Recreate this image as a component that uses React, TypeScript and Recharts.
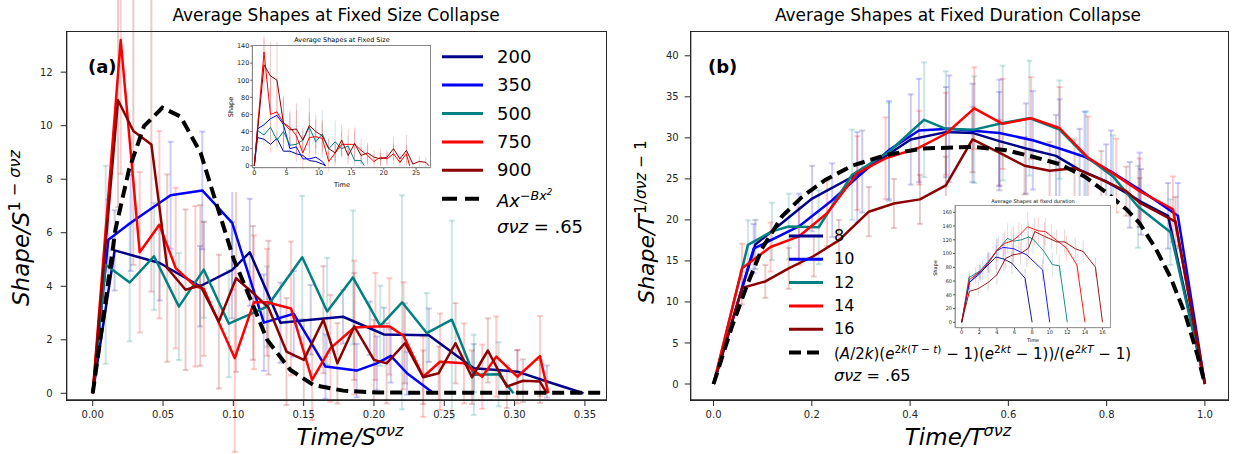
import React from "react";
import { LineChart, Line, XAxis, YAxis, ErrorBar } from "recharts";

const FONT = '"DejaVu Sans", Verdana, sans-serif';
const INK = "#262626";

const SIZE_LABELS = ["200", "350", "500", "750", "900"];
const DURATION_LABELS = ["8", "10", "12", "14", "16"];
const SERIES_COLORS = ["#00008b", "#0000ff", "#008080", "#ff0000", "#8b0000"];

// ---- panel (a): fixed size collapse ----
const A_XTICKS = [0, 0.05, 0.1, 0.15, 0.2, 0.25, 0.3, 0.35];
const A_YTICKS = [0, 2, 4, 6, 8, 10, 12];

const A200_X = [0, 0.0156, 0.0476, 0.0763, 0.099, 0.1117, 0.1335, 0.155, 0.178, 0.197, 0.207, 0.239, 0.271, 0.302, 0.323, 0.349];
const A200_Y = [0, 5.34, 4.87, 4.0, 4.6, 5.27, 2.64, 2.75, 2.86, 2.43, 2.2, 2.17, 0.94, 0.81, 0.44, 0];
const A200_E = [0, 1.5, 1.4, 1.5, 1.8, 2.0, 1.5, 1.3, 1.0, 1.0, 1.0, 1.0, 0.9, 0.8, 0.6, 0];

const A350_X = [0, 0.0111, 0.027, 0.0554, 0.0779, 0.0992, 0.1217, 0.143, 0.1655, 0.1877, 0.202, 0.212, 0.2235, 0.2424];
const A350_Y = [0, 5.74, 6.37, 7.4, 7.58, 6.37, 2.64, 2.97, 1.0, 0.85, 1.12, 1.4, 0.75, 0];
const A350_E = [0, 1.5, 1.8, 2.0, 2.2, 2.5, 1.8, 1.6, 1.2, 1.0, 1.0, 1.0, 0.8, 0];

const A500_X = [0, 0.0092, 0.0263, 0.0436, 0.0613, 0.079, 0.0968, 0.124, 0.149, 0.1667, 0.185, 0.2045, 0.22, 0.2375, 0.2554, 0.271, 0.2886, 0.2992];
const A500_Y = [0, 4.8, 4.14, 5.12, 3.24, 4.62, 2.6, 3.24, 5.08, 3.06, 4.33, 2.52, 3.4, 2.25, 2.75, 0.69, 0.71, 0];
const A500_E = [0, 3.7, 2.2, 2.0, 2.0, 1.8, 2.0, 1.5, 2.3, 2.0, 2.5, 1.5, 4.0, 1.5, 3.7, 1.5, 1.2, 0];

const A750_X = [0, 0.0199, 0.0334, 0.0474, 0.059, 0.073, 0.079, 0.101, 0.1146, 0.124, 0.141, 0.156, 0.169, 0.186, 0.201, 0.211, 0.221, 0.235, 0.247, 0.264, 0.277, 0.287, 0.302, 0.318, 0.324];
const A750_Y = [0, 13.2, 5.27, 6.3, 4.68, 4.0, 3.9, 1.31, 3.4, 3.4, 3.17, 0.5, 1.68, 2.46, 2.5, 2.5, 2.15, 0.62, 1.18, 1.12, 0.62, 1.37, 0.62, 1.39, 0];
const A750_E = [0, 5.0, 3.0, 3.5, 3.0, 3.0, 2.5, 3.5, 2.5, 2.0, 2.5, 1.5, 2.0, 2.5, 2.0, 1.8, 2.0, 1.5, 1.8, 1.5, 1.2, 1.5, 1.0, 1.5, 0];

const A900_X = [0, 0.018, 0.0289, 0.0417, 0.053, 0.066, 0.0765, 0.0897, 0.102, 0.114, 0.125, 0.1378, 0.1501, 0.164, 0.174, 0.186, 0.2, 0.209, 0.222, 0.235, 0.246, 0.258, 0.2697, 0.281, 0.2945, 0.306, 0.318, 0.323];
const A900_Y = [0, 10.95, 9.8, 9.3, 4.68, 3.87, 4.03, 2.68, 4.3, 3.75, 3.2, 1.56, 1.25, 2.75, 1.12, 2.5, 1.25, 1.12, 1.87, 0.6, 0.75, 1.87, 0.6, 1.6, 0.25, 0.47, 0.44, 0];
const A900_E = [0, 4.0, 5.0, 5.5, 3.5, 3.0, 3.0, 2.5, 3.5, 2.5, 2.5, 2.0, 1.5, 2.0, 1.5, 2.0, 1.5, 1.5, 1.5, 1.0, 1.0, 1.5, 1.0, 1.2, 0.8, 0.8, 0.8, 0];

const A_FIT_X = [0, 0.008, 0.0161, 0.0258, 0.0365, 0.0495, 0.0625, 0.0767, 0.0885, 0.1004, 0.1134, 0.124, 0.1406, 0.157, 0.178, 0.2022, 0.25, 0.3, 0.37];
const A_FIT_Y = [0, 3.0, 6.1, 8.36, 9.98, 10.67, 10.34, 8.99, 6.99, 4.99, 3.37, 2.0, 0.87, 0.31, 0.1, 0.03, 0.02, 0.02, 0.02];

// ---- inset of (a): raw shapes at fixed size ----
const IA_XTICKS = [0, 5, 10, 15, 20, 25];
const IA_YTICKS = [0, 20, 40, 60, 80, 100, 120, 140];

const IA200_T = [0, 0.5, 1.5, 2.5, 3.5, 4.5, 5.5, 6.5, 7.5, 8.5, 9.5, 10.5, 11];
const IA200_S = [0, 33, 31, 25, 32, 17, 17, 14, 12, 6, 5, 2, 0];
const IA350_T = [0, 0.5, 1.5, 2.5, 3.5, 4.5, 5.5, 6.5, 7.5, 8.5, 9.5, 10.5, 11];
const IA350_S = [0, 43, 48, 55, 59, 48, 20, 22, 8, 8, 10, 5, 0];
const IA500_T = [0, 0.5, 1.5, 2.5, 3.5, 4.5, 5.5, 6.5, 7.5, 8.5, 9.5, 10.5, 11.5, 12.5, 13.5, 14.5, 15.5, 16.5, 17];
const IA500_S = [0, 41, 36, 45, 30, 40, 24, 25, 30, 45, 28, 37, 20, 28, 20, 23, 6, 6, 0];
const IA500_E = [0, 15, 12, 14, 10, 12, 10, 10, 12, 18, 15, 28, 12, 25, 10, 12, 6, 5, 0];
const IA750_T = [0, 1.5, 2.5, 3.5, 4.5, 5.5, 6.5, 7.5, 8.5, 9.5, 10.5, 11.5, 12.5, 13.5, 14.5, 15.5, 16.5, 17.5, 18.5, 19.5, 20.5, 21.5, 22.5, 23.5, 24];
const IA750_S = [0, 133, 60, 63, 50, 45, 35, 15, 33, 34, 32, 5, 15, 25, 25, 25, 18, 12, 5, 10, 8, 14, 4, 14, 0];
const IA750_E = [0, 35, 45, 40, 32, 20, 30, 20, 25, 20, 18, 12, 15, 15, 18, 20, 14, 12, 8, 10, 8, 12, 6, 10, 0];
const IA900_T = [0, 1.5, 2.5, 3.5, 4.5, 5.5, 6.5, 7.5, 8.5, 9.5, 10.5, 11.5, 12.5, 13.5, 14.5, 15.5, 16.5, 17.5, 18.5, 19.5, 20.5, 21.5, 22.5, 23.5, 24.5, 25.5, 26.5, 27];
const IA900_S = [0, 118, 105, 100, 50, 42, 43, 30, 47, 40, 35, 20, 15, 30, 12, 26, 12, 15, 10, 8, 10, 20, 8, 18, 2, 5, 4, 0];
const IA900_E = [0, 30, 40, 45, 30, 20, 30, 15, 32, 20, 18, 12, 10, 18, 10, 15, 10, 12, 8, 8, 8, 14, 6, 18, 4, 6, 6, 0];

// ---- panel (b): fixed duration collapse ----
const B_XTICKS = [0, 0.2, 0.4, 0.6, 0.8, 1.0];
const B_YTICKS = [0, 5, 10, 15, 20, 25, 30, 35, 40];

const B8_X = [0, 0.085, 0.2007, 0.3027, 0.4014, 0.473, 0.527, 0.5816, 0.636, 0.697, 0.745, 0.799, 0.847, 0.87, 0.925, 1.0];
const B8_Y = [0, 17.0, 22.6, 25.9, 29.8, 30.7, 30.6, 29.6, 28.7, 27.8, 26.1, 24.7, 23.05, 22.2, 20.5, 0];
const B8_E = [0, 3, 4, 5, 5.5, 5.5, 6, 6, 5.5, 5, 5, 4.5, 4, 4, 4, 0];

const B10_X = [0, 0.0816, 0.1735, 0.2415, 0.2925, 0.357, 0.418, 0.4796, 0.5816, 0.6497, 0.7041, 0.755, 0.809, 0.867, 0.945, 1.0];
const B10_Y = [0, 16.5, 19.2, 22.4, 25.2, 28.5, 30.9, 31.1, 30.6, 29.7, 28.7, 27.7, 25.9, 23.7, 20.5, 0];
const B10_E = [0, 3, 4, 4.5, 5.5, 6, 6.3, 6.5, 6.5, 6, 6, 5.5, 5, 4.5, 4, 0];

const B12_X = [0, 0.07, 0.119, 0.153, 0.214, 0.282, 0.357, 0.4286, 0.4728, 0.5306, 0.5884, 0.6429, 0.7041, 0.7585, 0.8129, 0.864, 0.93, 1.0];
const B12_Y = [0, 16.95, 18.6, 19.2, 19.1, 25.5, 28.3, 32.2, 31.1, 31.0, 31.8, 32.4, 31.0, 27.7, 25.3, 21.6, 18.5, 0];
const B12_E = [0, 3, 3.5, 4, 4.5, 5.5, 6, 7, 7, 6.5, 7, 7, 6, 5.5, 5, 5, 4, 0];

const B14_X = [0, 0.058, 0.116, 0.174, 0.231, 0.2925, 0.35, 0.4184, 0.4728, 0.5306, 0.5884, 0.6463, 0.7041, 0.762, 0.8197, 0.867, 0.935, 1.0];
const B14_Y = [0, 14.1, 16.7, 18.0, 20.8, 25.7, 27.5, 28.8, 30.5, 33.6, 31.7, 32.4, 31.2, 27.6, 25.4, 23.5, 21.3, 0];
const B14_E = [0, 3, 3, 3.5, 4, 4.5, 5, 4.5, 5, 5, 5.5, 5, 5, 5, 4.5, 4, 4, 0];

const B16_X = [0, 0.0578, 0.1054, 0.153, 0.204, 0.255, 0.316, 0.367, 0.42, 0.4728, 0.527, 0.5816, 0.633, 0.684, 0.7347, 0.7891, 0.84, 0.867, 0.94, 1.0];
const B16_Y = [0, 11.7, 12.5, 14.1, 15.6, 17.5, 21.0, 22.0, 22.5, 24.2, 29.8, 28.2, 26.6, 26.0, 26.3, 24.9, 23.5, 22.1, 19.8, 0];
const B16_E = [0, 2, 2, 2.5, 2.5, 2.5, 3, 3, 3, 3.5, 4, 4, 3.5, 3.5, 3.5, 3.5, 3, 3, 3, 0];

const B_FIT_X = [0, 0.0374, 0.068, 0.0986, 0.139, 0.18, 0.228, 0.2823, 0.35, 0.4252, 0.527, 0.5952, 0.6497, 0.7041, 0.755, 0.8, 0.8401, 0.867, 0.9, 0.93, 0.96, 0.985, 1.0];
const B_FIT_Y = [0, 7.0, 12.0, 16.5, 20.4, 22.8, 24.9, 26.6, 27.9, 28.7, 28.9, 28.5, 27.7, 26.8, 25.3, 23.3, 21.3, 19.6, 16.5, 13.0, 8.5, 3.5, 0];

// ---- inset of (b): raw shapes at fixed duration ----
const IB_XTICKS = [0, 2, 4, 6, 8, 10, 12, 14, 16];
const IB_YTICKS = [0, 20, 40, 60, 80, 100, 120, 140, 160];

const IB8_T = [0, 0.83, 1.6, 2.4, 3.2, 3.9, 4.8, 5.7, 7.2, 8];
const IB8_S = [0, 57, 68, 76, 86, 95, 92, 86, 64, 0];
const IB8_E = [0, 10, 12, 14, 16, 18, 18, 16, 14, 0];
const IB10_T = [0, 0.87, 2.1, 3, 4, 4.7, 5.9, 7.4, 9.2, 10];
const IB10_S = [0, 58, 71, 86, 104, 109, 107, 98, 76, 0];
const IB10_E = [0, 10, 12, 15, 18, 20, 20, 18, 16, 0];
const IB12_T = [0, 0.83, 2.1, 3, 4.2, 5.2, 5.9, 6.8, 7.6, 8.1, 9.3, 10.3, 11.1, 12];
const IB12_S = [0, 65, 75, 88, 107, 122, 118, 120, 124, 121, 104, 84, 82, 0];
const IB12_E = [0, 10, 12, 15, 18, 22, 22, 22, 22, 22, 20, 18, 16, 0];
const IB14_T = [0, 0.87, 2, 3, 4, 4.9, 5.7, 6.5, 7.5, 8.7, 9.5, 10.2, 11.9, 13.1, 14];
const IB14_S = [0, 62, 73, 86, 105, 115, 118, 126, 139, 133, 132, 125, 108, 83, 0];
const IB14_E = [0, 10, 12, 14, 16, 18, 20, 20, 22, 20, 20, 18, 18, 16, 0];
const IB16_T = [0, 0.87, 1.9, 3, 4, 5, 5.8, 6.7, 7.6, 8.3, 9.4, 10.8, 11.7, 12.9, 13.8, 15.2, 16];
const IB16_S = [0, 45, 49, 58, 69, 93, 98, 100, 108, 132, 125, 117, 117, 107, 103, 80, 0];
const IB16_E = [0, 8, 10, 12, 14, 16, 16, 16, 18, 20, 20, 18, 18, 16, 16, 14, 0];

type Pt = { x: number; y: number; e: number };
type Series = { name: string; color: string; data: Pt[] };

const pts = (xs: number[], ys: number[], es?: number[]): Pt[] =>
  xs.map((x, i) => ({ x, y: ys[i], e: es ? es[i] : 0 }));

const A_SERIES: Series[] = [
  { name: SIZE_LABELS[0], color: SERIES_COLORS[0], data: pts(A200_X, A200_Y, A200_E) },
  { name: SIZE_LABELS[1], color: SERIES_COLORS[1], data: pts(A350_X, A350_Y, A350_E) },
  { name: SIZE_LABELS[2], color: SERIES_COLORS[2], data: pts(A500_X, A500_Y, A500_E) },
  { name: SIZE_LABELS[3], color: SERIES_COLORS[3], data: pts(A750_X, A750_Y, A750_E) },
  { name: SIZE_LABELS[4], color: SERIES_COLORS[4], data: pts(A900_X, A900_Y, A900_E) },
];
const IA_SERIES: Series[] = [
  { name: SIZE_LABELS[0], color: SERIES_COLORS[0], data: pts(IA200_T, IA200_S) },
  { name: SIZE_LABELS[1], color: SERIES_COLORS[1], data: pts(IA350_T, IA350_S) },
  { name: SIZE_LABELS[2], color: SERIES_COLORS[2], data: pts(IA500_T, IA500_S, IA500_E) },
  { name: SIZE_LABELS[3], color: SERIES_COLORS[3], data: pts(IA750_T, IA750_S, IA750_E) },
  { name: SIZE_LABELS[4], color: SERIES_COLORS[4], data: pts(IA900_T, IA900_S, IA900_E) },
];
const B_SERIES: Series[] = [
  { name: DURATION_LABELS[0], color: SERIES_COLORS[0], data: pts(B8_X, B8_Y, B8_E) },
  { name: DURATION_LABELS[1], color: SERIES_COLORS[1], data: pts(B10_X, B10_Y, B10_E) },
  { name: DURATION_LABELS[2], color: SERIES_COLORS[2], data: pts(B12_X, B12_Y, B12_E) },
  { name: DURATION_LABELS[3], color: SERIES_COLORS[3], data: pts(B14_X, B14_Y, B14_E) },
  { name: DURATION_LABELS[4], color: SERIES_COLORS[4], data: pts(B16_X, B16_Y, B16_E) },
];
const IB_SERIES: Series[] = [
  { name: DURATION_LABELS[0], color: SERIES_COLORS[0], data: pts(IB8_T, IB8_S, IB8_E) },
  { name: DURATION_LABELS[1], color: SERIES_COLORS[1], data: pts(IB10_T, IB10_S, IB10_E) },
  { name: DURATION_LABELS[2], color: SERIES_COLORS[2], data: pts(IB12_T, IB12_S, IB12_E) },
  { name: DURATION_LABELS[3], color: SERIES_COLORS[3], data: pts(IB14_T, IB14_S, IB14_E) },
  { name: DURATION_LABELS[4], color: SERIES_COLORS[4], data: pts(IB16_T, IB16_S, IB16_E) },
];
const A_FIT = pts(A_FIT_X, A_FIT_Y);
const B_FIT = pts(B_FIT_X, B_FIT_Y);

function errorLayer(series: Series[], cap: number, sw: number, op: number) {
  return series.map((s) => (
    <Line key={"err-" + s.name} data={s.data} dataKey="y" stroke="none" dot={false} activeDot={false} isAnimationActive={false}>
      <ErrorBar dataKey="e" width={cap} stroke={s.color} strokeOpacity={op} strokeWidth={sw} />
    </Line>
  ));
}

function lineLayer(series: Series[], sw: number) {
  return series.map((s) => (
    <Line key={"line-" + s.name} data={s.data} dataKey="y" stroke={s.color} strokeWidth={sw} strokeLinejoin="round" dot={false} activeDot={false} isAnimationActive={false} />
  ));
}

const tickFont = (size: number) => ({ fontSize: size, fill: INK, fontFamily: FONT });

const Sup = ({ children }: { children: React.ReactNode }) => (
  <span style={{ fontSize: "0.7em", position: "relative", top: "-0.55em" }}>{children}</span>
);

const abs = (left: number, top: number, extra: React.CSSProperties = {}): React.CSSProperties => ({
  position: "absolute",
  left,
  top,
  whiteSpace: "nowrap",
  fontFamily: FONT,
  color: "#000",
  lineHeight: 1,
  ...extra,
});

// plot-area outline (matplotlib draws all four spines)
const Box = ({ l, t, r, b, color, w }: { l: number; t: number; r: number; b: number; color: string; w: number }) => (
  <div style={{ position: "absolute", left: l - w / 2, top: t - w / 2, width: r - l + w, height: b - t + w, border: `${w}px solid ${color}`, boxSizing: "border-box", pointerEvents: "none" }} />
);

const A_XDOM = [-0.0185, 0.365];
const A_YDOM = [-0.25, 13.5];
const B_XDOM = [-0.0465, 1.047];
const B_YDOM = [-1.95, 42.9];
const IA_XDOM = [-0.31, 27.3];
const IA_YDOM = [-2.3, 141.2];
const IB_XDOM = [-0.76, 16.85];
const IB_YDOM = [-7.85, 170.6];

function PanelA() {
  return (
    <div style={{ position: "absolute", left: 0, top: 0 }}>
      <LineChart width={620} height={454} margin={{ top: 32, right: 14, bottom: 24, left: 0 }}>
        <XAxis type="number" dataKey="x" domain={A_XDOM} allowDataOverflow ticks={A_XTICKS} interval={0}
          tickFormatter={(v: number) => v.toFixed(2)} height={30} tickSize={6} tickMargin={5}
          tick={tickFont(10)} tickLine={{ stroke: INK }} axisLine={{ stroke: INK, strokeWidth: 1.3 }} />
        <YAxis type="number" domain={A_YDOM} allowDataOverflow ticks={A_YTICKS} interval={0} width={66.7}
          tickSize={6} tickMargin={8} tick={tickFont(10)} tickLine={{ stroke: INK }} axisLine={{ stroke: INK, strokeWidth: 1.3 }} />
        {errorLayer(A_SERIES, 3, 2, 0.2)}
        {lineLayer(A_SERIES, 2.5)}
        <Line data={A_FIT} dataKey="y" stroke="#000" strokeWidth={4} strokeDasharray="12 6" dot={false} activeDot={false} isAnimationActive={false} />
      </LineChart>
    </div>
  );
}

function PanelB() {
  return (
    <div style={{ position: "absolute", left: 630, top: 0 }}>
      <LineChart width={603} height={454} margin={{ top: 32, right: 5, bottom: 24, left: 0 }}>
        <XAxis type="number" dataKey="x" domain={B_XDOM} allowDataOverflow ticks={B_XTICKS} interval={0}
          tickFormatter={(v: number) => v.toFixed(1)} height={30} tickSize={6} tickMargin={5}
          tick={tickFont(10)} tickLine={{ stroke: INK }} axisLine={{ stroke: INK, strokeWidth: 1.3 }} />
        <YAxis type="number" domain={B_YDOM} allowDataOverflow ticks={B_YTICKS} interval={0} width={60.7}
          tickSize={6} tickMargin={6} tick={tickFont(10)} tickLine={{ stroke: INK }} axisLine={{ stroke: INK, strokeWidth: 1.3 }} />
        {errorLayer(B_SERIES, 3, 2, 0.2)}
        {lineLayer(B_SERIES, 2.5)}
        <Line data={B_FIT} dataKey="y" stroke="#000" strokeWidth={4} strokeDasharray="12 6" dot={false} activeDot={false} isAnimationActive={false} />
      </LineChart>
    </div>
  );
}

function InsetA() {
  return (
    <div style={{ position: "absolute", left: 215, top: 36, background: "#fff" }}>
      <LineChart width={220} height={156} margin={{ top: 9, right: 4, bottom: 10, left: 0 }}>
        <XAxis type="number" dataKey="x" domain={IA_XDOM} allowDataOverflow ticks={IA_XTICKS} interval={0}
          height={14.3} tickSize={2} tickMargin={1} tick={tickFont(6.5)} tickLine={{ stroke: "#555" }} axisLine={{ stroke: "#888" }} />
        <YAxis type="number" domain={IA_YDOM} allowDataOverflow ticks={IA_YTICKS} interval={0} width={37.3}
          tickSize={2} tickMargin={1} tick={tickFont(6.5)} tickLine={{ stroke: "#555" }} axisLine={{ stroke: "#888" }} />
        {errorLayer(IA_SERIES, 0, 1, 0.2)}
        {lineLayer(IA_SERIES, 1)}
      </LineChart>
    </div>
  );
}

function InsetB() {
  return (
    <div style={{ position: "absolute", left: 928, top: 196, background: "#fff" }}>
      <LineChart width={188} height={150} margin={{ top: 9, right: 6, bottom: 8.3, left: 0 }}>
        <XAxis type="number" dataKey="x" domain={IB_XDOM} allowDataOverflow ticks={IB_XTICKS} interval={0}
          height={10} tickSize={2} tickMargin={1} tick={tickFont(5)} tickLine={{ stroke: "#555" }} axisLine={{ stroke: "#999" }} />
        <YAxis type="number" domain={IB_YDOM} allowDataOverflow ticks={IB_YTICKS} interval={0} width={27}
          tickSize={2} tickMargin={1} tick={tickFont(5)} tickLine={{ stroke: "#555" }} axisLine={{ stroke: "#999" }} />
        {errorLayer(IB_SERIES, 0, 1, 0.18)}
        {lineLayer(IB_SERIES, 0.9)}
      </LineChart>
    </div>
  );
}

function Legends() {
  const aRow = (i: number) => 56.7 + i * 28.4;
  const bRow = (i: number) => 236 + i * 23.3;
  return (
    <>
      <svg width={1233} height={454} style={{ position: "absolute", left: 0, top: 0, pointerEvents: "none" }}>
        {SIZE_LABELS.map((s, i) => (
          <line key={"la" + s} x1={442} x2={483} y1={aRow(i)} y2={aRow(i)} stroke={SERIES_COLORS[i]} strokeWidth={3} />
        ))}
        <line x1={442} x2={479} y1={aRow(5)} y2={aRow(5)} stroke="#000" strokeWidth={4} strokeDasharray="15 8" />
        {DURATION_LABELS.map((s, i) => (
          <line key={"lb" + s} x1={789} x2={823} y1={bRow(i)} y2={bRow(i)} stroke={SERIES_COLORS[i]} strokeWidth={3} />
        ))}
        <line x1={789} x2={823} y1={bRow(5)} y2={bRow(5)} stroke="#000" strokeWidth={4} strokeDasharray="12 6" />
      </svg>
      {SIZE_LABELS.map((s, i) => (
        <div key={"ta" + s} style={abs(497, aRow(i), { fontSize: 18, transform: "translateY(-50%)" })}>{s}</div>
      ))}
      <div style={abs(497, aRow(5) + 2, { fontSize: 18, transform: "translateY(-50%)", fontStyle: "italic" })}>
        Ax<Sup>−Bx<Sup>2</Sup></Sup>
      </div>
      <div style={abs(497, aRow(6), { fontSize: 18, transform: "translateY(-50%)" })}>
        <i>σνz</i> = .65
      </div>
      {DURATION_LABELS.map((s, i) => (
        <div key={"tb" + s} style={abs(834, bRow(i), { fontSize: 16, transform: "translateY(-50%)" })}>{s}</div>
      ))}
      <div style={abs(834, bRow(5) + 1, { fontSize: 15, transform: "translateY(-50%)" })}>
        (<i>A</i>/2<i>k</i>)(<i>e</i><Sup>2<i>k</i>(<i>T</i> − <i>t</i>)</Sup> − 1)(<i>e</i><Sup>2<i>kt</i></Sup> − 1))/(<i>e</i><Sup>2<i>kT</i></Sup> − 1)
      </div>
      <div style={abs(834, bRow(6), { fontSize: 16, transform: "translateY(-50%)" })}>
        <i>σνz</i> = .65
      </div>
    </>
  );
}

function Texts() {
  const rot: React.CSSProperties = { transform: "translate(-50%, -50%) rotate(-90deg)" };
  const mid: React.CSSProperties = { transform: "translate(-50%, -50%)" };
  return (
    <>
      <div style={abs(336, 15, { fontSize: 17, ...mid })}>Average Shapes at Fixed Size Collapse</div>
      <div style={abs(958, 15, { fontSize: 17, ...mid })}>Average Shapes at Fixed Duration Collapse</div>
      <div style={abs(88, 67, { fontSize: 18, fontWeight: "bold", transform: "translateY(-50%)" })}>(a)</div>
      <div style={abs(708, 67, { fontSize: 18, fontWeight: "bold", transform: "translateY(-50%)" })}>(b)</div>
      <div style={abs(350, 437, { fontSize: 23, fontStyle: "italic", ...mid })}>
        Time/S<Sup>σνz</Sup>
      </div>
      <div style={abs(958, 437, { fontSize: 23, fontStyle: "italic", ...mid })}>
        Time/T<Sup>σνz</Sup>
      </div>
      <div style={abs(21, 228, { fontSize: 23, fontStyle: "italic", ...rot })}>
        Shape/S<Sup><span style={{ fontStyle: "normal" }}>1 − </span>σνz</Sup>
      </div>
      <div style={abs(647, 222, { fontSize: 22, fontStyle: "italic", ...rot })}>
        Shape/T<Sup><span style={{ fontStyle: "normal" }}>1/</span>σνz<span style={{ fontStyle: "normal" }}> − 1</span></Sup>
      </div>
      <div style={abs(342, 40, { fontSize: 6.5, ...mid })}>Average Shapes at Fixed Size</div>
      <div style={abs(342, 185, { fontSize: 6.5, ...mid })}>Time</div>
      <div style={abs(231, 107, { fontSize: 6.5, ...rot })}>Shape</div>
      <div style={abs(1033, 201, { fontSize: 5, ...mid })}>Average Shapes at fixed duration</div>
      <div style={abs(1033, 340, { fontSize: 5, ...mid })}>Time</div>
      <div style={abs(935, 268, { fontSize: 5, ...rot })}>Shape</div>
    </>
  );
}

export default function App() {
  return (
    <div style={{ position: "absolute", left: 0, top: 0, width: 1233, height: 454, background: "#fff", overflow: "hidden" }}>
      <PanelA />
      <PanelB />
      <Box l={66.7} t={32} r={606} b={400} color={INK} w={1.4} />
      <Box l={690.7} t={32} r={1228} b={400} color={INK} w={1.4} />
      <InsetA />
      <InsetB />
      <Box l={252.3} t={45} r={431} b={167.7} color="#888" w={1} />
      <Box l={955} t={205} r={1110} b={327.7} color="#999" w={1} />
      <Legends />
      <Texts />
    </div>
  );
}
